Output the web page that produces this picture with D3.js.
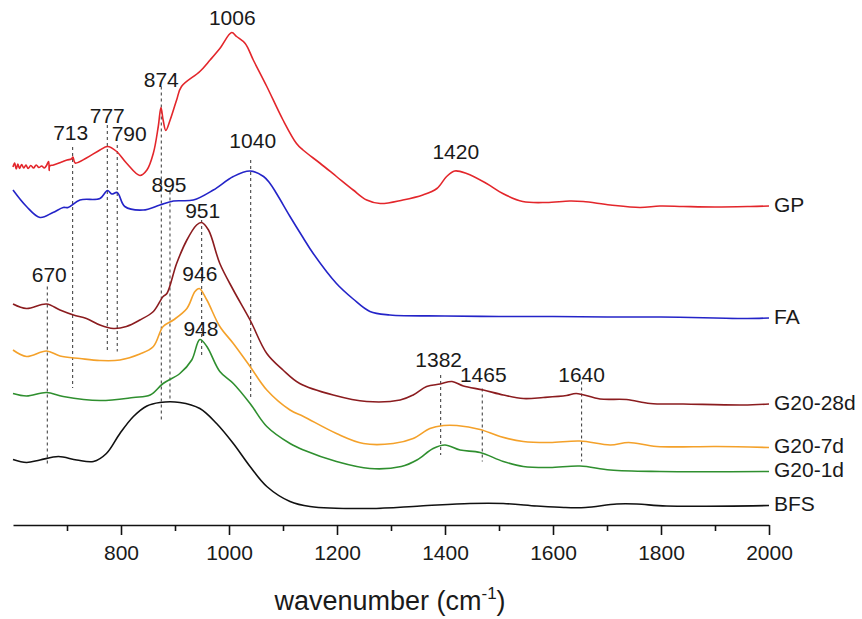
<!DOCTYPE html>
<html>
<head>
<meta charset="utf-8">
<script src="https://cdn.jsdelivr.net/npm/d3@7"></script>
<style>
  body { margin: 0; background: #fff; }
  text { font-family: "Liberation Sans", Arial, sans-serif; fill: #1a1a1a; }
</style>
</head>
<body>
<svg id="chart"></svg>
<script>
// FTIR spectra, absorbance in arbitrary units (stacked), wavenumber in cm-1

var gpData = [
  [600, .716], [603, .724], [606, .712], [609, .722], [612, .713], [616, .721], [620, .714],
  [624, .72], [628, .713], [633, .719], [638, .714], [643, .72], [648, .715], [653, .718],
  [658, .714], [662, .719], [666, .727], [667, .709], [668, .718], [675, .72], [690, .726],
  [700, .73], [708, .732], [711, .736], [715, .724], [736, .734], [761, .75], [775, .757],
  [792, .747], [810, .724], [835, .699], [848, .71], [860, .744], [869, .797], [874, .835],
  [878, .81], [883, .789], [891, .81], [903, .85], [912, .877], [946, .907], [965, .93],
  [983, .953], [1005, .985], [1014, .977], [1030, .963], [1045, .93], [1070, .877], [1100, .81],
  [1125, .763], [1137, .75], [1168, .724], [1199, .697], [1230, .67], [1255, .65], [1280, .643],
  [1322, .65], [1359, .66], [1385, .673], [1403, .697], [1418, .708], [1440, .703], [1477, .683],
  [1507, .663], [1544, .647], [1588, .645], [1631, .648], [1656, .647], [1706, .64], [1761, .635],
  [1798, .638], [1841, .637], [1900, .636], [1965, .637], [2000, .638]
];

var faData = [
  [600, .67], [625, .637], [650, .615], [674, .625], [693, .635], [702, .635], [724, .65],
  [761, .653], [775, .669], [783, .662], [793, .665], [807, .637], [841, .63], [872, .64],
  [897, .648], [934, .65], [971, .67], [1008, .697], [1039, .708], [1064, .697], [1076, .683],
  [1088, .663], [1113, .617], [1137, .575], [1156, .543], [1199, .483], [1230, .452], [1261, .427],
  [1298, .42], [1400, .418], [1500, .417], [1600, .417], [1700, .416], [1800, .416], [1900, .414],
  [1960, .413], [2000, .414]
];

var g28Data = [
  [600, .442], [625, .433], [662, .442], [687, .43], [712, .42], [736, .413], [761, .4],
  [786, .393], [810, .397], [835, .41], [860, .427], [878, .457], [885, .463], [903, .523],
  [922, .57], [940, .6], [949, .605], [962, .59], [983, .523], [1008, .47], [1039, .41],
  [1070, .343], [1100, .31], [1131, .283], [1193, .26], [1255, .247], [1317, .25], [1341, .26],
  [1366, .277], [1391, .282], [1413, .287], [1434, .278], [1471, .27], [1508, .26], [1545, .253],
  [1582, .255], [1625, .259], [1643, .263], [1687, .252], [1736, .251], [1780, .243], [1841, .242],
  [1952, .24], [2000, .242]
];

var g7Data = [
  [600, .35], [625, .337], [662, .348], [687, .338], [724, .333], [761, .329], [798, .33],
  [835, .342], [860, .357], [878, .397], [897, .41], [922, .433], [937, .467], [945, .473],
  [959, .45], [983, .397], [1008, .363], [1039, .317], [1070, .27], [1113, .23], [1138, .217],
  [1199, .183], [1249, .163], [1304, .163], [1341, .173], [1372, .193], [1397, .199], [1422, .199],
  [1465, .191], [1502, .177], [1545, .167], [1594, .165], [1650, .168], [1706, .16], [1740, .165],
  [1792, .157], [1903, .157], [2000, .155]
];

var g1Data = [
  [600, .263], [625, .258], [662, .265], [693, .257], [761, .249], [823, .255], [854, .26],
  [878, .283], [909, .303], [931, .33], [946, .371], [959, .357], [983, .307], [1008, .283],
  [1039, .243], [1070, .197], [1113, .163], [1138, .15], [1199, .127], [1261, .113], [1319, .117],
  [1348, .13], [1378, .153], [1400, .16], [1428, .15], [1465, .145], [1508, .127], [1545, .117],
  [1594, .115], [1650, .118], [1706, .11], [1798, .107], [2000, .107]
];

var bfsData = [
  [600, .131], [625, .125], [650, .13], [684, .137], [718, .13], [749, .127], [773, .143],
  [798, .183], [823, .217], [848, .238], [872, .245], [909, .245], [946, .233], [977, .203],
  [1008, .163], [1039, .117], [1070, .077], [1113, .047], [1150, .037], [1261, .033], [1354, .038],
  [1446, .043], [1508, .043], [1570, .038], [1620, .035], [1660, .035], [1718, .042], [1755, .042],
  [1810, .038], [2000, .039]
];

var seriesNames = ["GP", "FA", "G20-28d", "G20-7d", "G20-1d", "BFS"];
var seriesData = [gpData, faData, g28Data, g7Data, g1Data, bfsData];
var seriesColors = ["#e3262b", "#2424c8", "#8b1c1f", "#f4a12a", "#2f8f2f", "#111111"];

// peak marks: label, wavenumber of dashed line, line top / bottom (a.u.), null = no line
var peakLabels = ["670", "713", "777", "790", "874", "895", "951", "1040", "1382", "1465", "1640", "1006", "1420", "946", "948"];
var peakWn     = [663.5, 710.5, 774.6, 793, 874.6, 890.7, 949.4, 1040.2, 1392, 1469, 1653, 1006, 1420, 946, 948];
var peakTop    = [.477, .756, .8, .76, .877, .667, .61, .73, .3, .273, .287, 1.0, .733, .489, .378];
var peakBottom = [.12, .274, .347, .347, .207, .247, .337, .25, .14, .127, .127, null, null, null, null];

var majorTicks = [800, 1000, 1200, 1400, 1600, 1800, 2000];
var minorTicks = [700, 900, 1100, 1300, 1500, 1700, 1900];

// label nudges in pixels [dx, dy from line top]
var labelShift = {
  "670": [2, -5], "713": [-2, -7], "777": [0, -2], "790": [12, -4], "874": [0, 0],
  "895": [-1, 0], "951": [1, -2], "1040": [2, -12], "1382": [-2, -8], "1465": [1, -7],
  "1640": [0, 0]
};

var width = 862, height = 619;

var svg = d3.select("#chart")
  .attr("width", width)
  .attr("height", height);

var x = d3.scaleLinear().domain([600, 2000]).range([13, 769]);
var y = d3.scaleLinear().domain([0, 1]).range([525, 25]);

// Dashed peak lines

svg.append("g")
  .attr("class", "peak-lines")
  .selectAll("line")
  .data(d3.range(peakLabels.length).filter(i => peakBottom[i] !== null))
  .enter()
  .append("line")
  .attr("x1", i => x(peakWn[i]))
  .attr("x2", i => x(peakWn[i]))
  .attr("y1", i => y(peakTop[i]))
  .attr("y2", i => y(peakBottom[i]))
  .attr("stroke", "#333")
  .attr("stroke-width", 1)
  .attr("stroke-dasharray", "3,3");

// Spectra

var line = d3.line()
  .x(d => x(d[0]))
  .y(d => y(d[1]))
  .curve(d3.curveCatmullRom.alpha(0.5));

svg.append("g")
  .attr("class", "spectra")
  .selectAll("path")
  .data(seriesData)
  .enter()
  .append("path")
  .attr("d", line)
  .attr("fill", "none")
  .attr("stroke", (d, i) => seriesColors[i])
  .attr("stroke-width", 1.6)
  .attr("stroke-linejoin", "round");

// Series names at right end

svg.append("g")
  .attr("class", "series-labels")
  .selectAll("text")
  .data(seriesData)
  .enter()
  .append("text")
  .attr("x", x(2000) + 5)
  .attr("y", d => y(d[d.length - 1][1]) - 2)
  .attr("dy", "0.36em")
  .attr("font-size", 21)
  .text((d, i) => seriesNames[i]);

// Peak labels

svg.append("g")
  .attr("class", "peak-labels")
  .selectAll("text")
  .data(d3.range(peakLabels.length))
  .enter()
  .append("text")
  .attr("x", i => x(peakWn[i]) + (labelShift[peakLabels[i]] || [0, 0])[0])
  .attr("y", i => y(peakTop[i]) + (labelShift[peakLabels[i]] || [0, 0])[1])
  .attr("text-anchor", "middle")
  .attr("font-size", 21)
  .text(i => peakLabels[i]);

// X axis

var xAxis = svg.append("g")
  .attr("transform", "translate(0," + y(0) + ")")
  .call(d3.axisBottom(x).tickValues(majorTicks).tickSize(10).tickSizeOuter(0).tickPadding(10).tickFormat(d3.format("d")));

xAxis.select(".domain").attr("stroke", "#111").attr("stroke-width", 1.6);
xAxis.selectAll(".tick line").attr("stroke", "#111").attr("stroke-width", 1.6);
xAxis.selectAll(".tick text")
  .attr("font-size", 21)
  .attr("font-family", "Liberation Sans, Arial, sans-serif")
  .attr("fill", "#1a1a1a");

var minorAxis = svg.append("g")
  .attr("transform", "translate(0," + y(0) + ")")
  .call(d3.axisBottom(x).tickValues(minorTicks).tickSize(6).tickFormat(""));

minorAxis.select(".domain").remove();
minorAxis.selectAll(".tick line").attr("stroke", "#111").attr("stroke-width", 1.6);

// Axis title

var title = svg.append("text")
  .attr("x", 390)
  .attr("y", 610)
  .attr("text-anchor", "middle")
  .attr("font-size", 27);

title.append("tspan").text("wavenumber (cm");
title.append("tspan").attr("dy", -11).attr("font-size", 17).text("-1");
title.append("tspan").attr("dy", 11).text(")");
</script>
</body>
</html>
